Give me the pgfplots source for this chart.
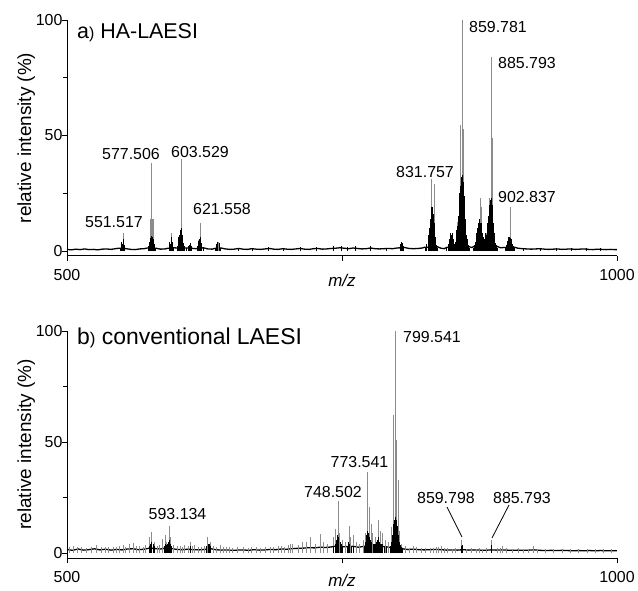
\documentclass[border=0pt]{standalone}
\usepackage{fontspec}
\setmainfont{Liberation Sans}
\usepackage{pgfplots}
\pgfplotsset{compat=1.18}

\pgfplotsset{
  spec/.style={
    width=550bp, scale only axis,
    xmin=500, xmax=1000, ymax=100,
    axis x line*=bottom, axis y line*=left,
    axis line style={line width=1pt},
    xtick={500,750,1000}, xticklabels={500,,1000},
    ytick={0,50,100}, minor ytick={25,75},
    tick align=outside, major tick length=5bp, minor tick length=4bp,
    tick style={line width=0.8pt, black},
    ticklabel style={font=\fontsize{16}{18}\selectfont},
    xticklabel style={yshift=-5bp},
    yticklabel style={xshift=4bp},
    /pgf/number format/assume math mode=true,
    xlabel={\textit{m/z}},
    xlabel style={font=\fontsize{17}{19}\selectfont, at={(axis description cs:0.5,0)}, anchor=base},
    ylabel={relative intensity (\%)},
    ylabel style={font=\fontsize{19}{21}\selectfont, yshift=-6bp},
    clip=false,
  },
  stick/.style={ycomb, no markers, black!45, line width=0.7pt},
  env/.style={ycomb, no markers, black, line width=0.5pt},
  base/.style={no markers, black, line width=1.3pt},
}
\tikzset{
  lab/.style={font=\fontsize{16}{18}\selectfont, anchor=base, inner sep=0pt},
  ttl/.style={anchor=base west, inner sep=0pt},
}

\begin{document}
\begin{tikzpicture}
\useasboundingbox (-67bp,-33bp) rectangle (571bp,558bp);

% ---------- a) HA-LAESI ----------
\begin{axis}[spec, at={(0,302bp)}, anchor=south west, height=236bp, ymin=-2.16,
  xlabel style={yshift=-31bp}]
\addplot[base] coordinates {
(500,0.7)(504,0.5)(508,0.8)(512,0.6)(516,0.9)(520,0.6)(524,0.7)(528,0.5)(532,0.8)(536,0.9)
(540,0.7)(544,1.0)(547,1.2)(554,1.0)(558,0.7)(562,0.6)(566,0.9)(570,1.0)(573,1.3)(581,1.2)
(585,0.8)(589,0.9)(592,1.2)(597,1.4)(600,1.3)(608,1.3)(613,1.2)(617,1.0)(624,1.4)(628,0.9)
(632,0.8)(635,1.2)(640,1.3)(644,0.9)(648,0.7)(652,0.8)(656,1.1)(660,0.8)(664,0.7)(668,1.0)
(672,0.8)(676,0.7)(680,0.9)(684,1.1)(688,0.8)(692,0.7)(696,1.0)(700,0.8)(704,0.7)(708,0.9)
(712,1.1)(716,0.8)(720,0.7)(724,1.0)(728,1.1)(732,0.8)(736,0.9)(740,1.1)(744,1.2)(748,1.4)
(752,1.2)(756,1.0)(760,1.3)(764,1.1)(768,0.9)(772,1.0)(776,1.3)(780,1.0)(784,0.9)(788,1.0)
(792,1.1)(796,1.0)(800,1.3)(807,1.5)(811,1.1)(815,1.0)(819,1.1)(823,1.3)(825,1.6)(837,1.8)
(840,1.2)(843,1.0)(845,1.5)(856,2.5)(866,1.8)(868,1.5)(870,2.0)(891,2.0)(894,1.4)(897,1.5)
(907,1.6)(910,1.2)(914,1.0)(918,0.9)(922,0.8)(926,0.9)(930,1.0)(934,0.8)(938,0.7)(942,0.8)
(946,0.9)(950,0.7)(954,0.8)(958,0.9)(962,0.7)(966,0.8)(970,0.9)(974,0.7)(978,0.6)(982,0.8)
(986,0.7)(990,0.6)(994,0.7)(998,0.6)(1000,0.6)
};
\addplot[stick] coordinates {
(549.2,4)(551.2,7.8)(575.5,14)(576.5,14.5)(577,38)(578,14)(578.5,14)(593,4)(595,8)
(601.8,7)(603.6,40)(604.2,18)(619.4,4.7)(621,12)(638,4)(829.4,10)(831.5,31)(833.6,29)
(848.8,8)(850.6,8)(855,12.5)(857.9,54.7)(859.4,100)(860.3,53)(875.5,23)(877,19)
(880.9,7.6)(883.6,23)(885.5,84)(887,49)(902.7,19)
};
\addplot[env] coordinates {
(548.5,1.5)(549,3)(549.5,4)(550,2.5)(550.5,3)(551,5)(551.5,4)(552,2.5)(552.5,1.5)
(574,2)(574.5,3)(575,4)(575.5,5)(576,5.5)(576.5,6)(577,6.5)(577.5,6)(578,5)(578.5,4)(579,3)(579.5,2)(580,1.5)
(593,4)(593.5,3)(594,2.5)(594.5,5)(595,6)(595.5,4)(596,2.5)(596.5,1.5)
(600.5,2)(601,3)(601.5,6)(602,5)(602.5,7)(603,9)(603.5,10)(604,9)(604.5,7)(605,5)(605.5,3.5)(606,2.5)(607,2)(608,1.5)
(610,2)(611,2.5)(612.5,3.4)(613,2)
(618.5,2)(619,3)(619.5,4.5)(620,3.5)(620.5,5)(621,6)(621.5,5)(622,3.5)(622.5,2.5)(623.5,1.5)
(635,1.5)(636,3)(637,4)(638,3.5)(638.5,2.5)(639.5,1.5)
(656,1.5)(668,1.5)(683,1.6)(697,1.5)(712,1.6)(727,1.8)(742,2)(749,2.2)(755,1.8)(762,2.2)(776,2)(790,1.5)
(803,3)(804,4)(805,3.5)(806,2)
(826,1.5)(827,3)(828,5)(828.5,7)(829,10)(829.5,8)(830,11)(830.5,14)(831,17)(831.5,19)(832,18)(832.5,19)(833,16)(833.5,12)(834,9)(834.5,6)(835,4)(836,2.5)(837,1.5)
(845,1.5)(846.5,3)(847.5,5)(848,6)(848.5,8)(849,7)(849.5,6)(850,7)(850.5,8)(851,5)(852,3)(852.5,2.5)(853,4)(853.5,7)(854,9)(854.5,11)(855,9)(855.5,12)
(856,15)(856.5,20)(857,25)(857.5,28)(858,30)(858.5,32)(859,33)(859.5,33)(860,30)(860.5,28)(861,24)(861.5,18)(862,14)(862.5,10)(863,7)(863.5,5)(864,3.5)(865,2.5)(866,1.5)
(869,1.5)(870,2.5)(871,4)(872,6)(872.5,8)(873,10)(873.5,11)(874,12)(874.5,13)(875,14)(875.5,12)(876,11)(876.5,12)(877,10)(877.5,8)(878,6)(878.5,5)(879,4)(879.5,5)(880,6)(880.5,7.6)(881,6)(881.5,7)
(882,10)(882.5,12)(883,15)(883.5,18)(884,20)(884.5,22)(885,22)(885.5,23)(886,22)(886.5,20)(887,16)(887.5,12)(888,8)(888.5,5)(889,3.5)(890,2.5)(891,1.5)
(898,1.5)(899,2.5)(900,3.5)(900.5,4.5)(901,5)(901.5,6)(902,6)(902.5,6)(903,5.5)(903.5,5)(904,4)(904.5,3)(905,2.5)(906,2)(907,1.5)
(915,1.2)(930,1.1)(945,1.2)(958,1.1)(972,1.2)(985,1.1)
};
\node[ttl, font=\fontsize{21.5}{24}\selectfont] at (axis cs:509.1,92.2) {a{\fontsize{16}{18}\selectfont)} HA-LAESI};
\node[lab] at (axis cs:542.7,10.0) {551.517};
\node[lab] at (axis cs:558.2,39.8) {577.506};
\node[lab] at (axis cs:620.9,40.3) {603.529};
\node[lab] at (axis cs:640.9,15.6) {621.558};
\node[lab] at (axis cs:825.5,32.0) {831.757};
\node[lab] at (axis cs:891.8,94.4) {859.781};
\node[lab] at (axis cs:918.2,79.2) {885.793};
\node[lab] at (axis cs:918.2,21.2) {902.837};
\end{axis}

% ---------- b) conventional LAESI ----------
\begin{axis}[spec, at={(0,0)}, anchor=south west, height=227bp, ymin=-2.25,
  xlabel style={yshift=-28bp}]
\addplot[base] coordinates {
(500,1.6)(505,1.2)(510,1.8)(515,1.3)(520,1.5)(525,1.9)(530,1.4)(535,1.7)(540,1.3)(545,1.6)
(550,1.4)(555,1.8)(560,1.9)(565,1.5)(570,1.7)(575,2.2)(580,2.0)(585,1.8)(590,2.3)(595,2.0)
(600,1.6)(605,1.5)(610,1.7)(615,1.5)(620,1.4)(625,1.6)(630,2.0)(635,1.5)(640,1.3)(645,1.4)
(650,1.2)(655,1.3)(660,1.4)(665,1.2)(670,1.5)(675,1.3)(680,1.4)(685,1.6)(690,1.5)(695,1.8)
(700,1.7)(705,2.0)(710,2.1)(715,2.2)(720,2.4)(725,2.3)(730,2.6)(735,2.5)(740,2.7)(745,3.2)
(750,2.8)(755,2.9)(760,3.0)(765,2.6)(770,3.0)(775,3.4)(780,3.2)(785,3.0)(790,2.8)(794,2.5)
(803,2.4)(806,1.8)(810,1.6)(815,1.7)(820,1.5)(825,1.4)(830,1.5)(835,1.6)(840,1.5)(845,1.3)
(850,1.4)(855,1.3)(860,1.5)(865,1.3)(870,1.4)(875,1.3)(880,1.2)(885,1.4)(890,1.3)(895,1.4)
(900,1.3)(905,1.2)(910,1.3)(915,1.2)(920,1.3)(925,1.4)(930,1.2)(935,1.1)(940,1.2)(945,1.1)
(950,1.2)(955,1.1)(960,1.0)(965,1.1)(970,1.0)(975,1.1)(980,1.0)(985,1.1)(990,1.0)(995,1.0)
(1000,1.0)
};
\addplot[stick] coordinates {
(502,2.8)(506,3.2)(509,2.5)(513,2.7)(518,2.4)(522,2.9)(527,3.4)(531,2.5)(535,2.5)(538,2.6)
(542,2.8)(545,2.5)(548,3.0)(551,3.6)(553,2.7)(557,4.0)(560,4.3)(563,3.0)(566,3.2)(569,2.8)
(571,3.4)(574.8,7)(577,9.3)(579,5)(582,3.0)(584,3.5)(586.4,6.5)(589,8)(590.5,5)(592.7,12.3)
(594,7)(597,3.5)(600,3.0)(602.7,3.2)(605,2.8)(607,3.4)(610,3.0)(612.4,5)(614,3.2)(616,3.6)
(619,2.6)(622,2.8)(625,3.0)(628,7)(630,5)(633,3.2)(636,2.8)(639,3.4)(642,2.6)(645,2.5)
(648,2.5)(650,2.4)(655,2.6)(660,2.5)(665,2.4)(668,2.7)(672,2.6)(676,2.4)(680,2.7)(685,2.8)
(688,2.5)(692,3.0)(695,3.2)(698,2.8)(701,3.5)(703,4.0)(705,4)(710,3.5)(714,5)(718,5)
(721,7)(726,4)(730.6,8.7)(733,5)(737,4)(742,7)(744,11)(746.7,23.6)(748,9)(750,6)
(753,5)(756.4,12)(758,7)(760,8)(763,5)(766,4)(769,6)(771,9)(773.3,36.7)(774.7,20.5)
(776.4,13)(778,9)(780,7)(782.7,15)(784.5,10)(787,9)(789,6)(792,5)(795,11.5)(797,62)
(798.5,100)(799.7,51)(801,33)(802,10)(804,4)(808,3)(811,2.2)(814.5,3)(818,2.6)(822,2.2)
(826,2.1)(830,2.4)(833,2.2)(836,2.6)(838,2.8)(840,3.0)(843,2.2)(846,2.2)(850,2.0)(853,2.1)
(858.8,6)(863,2.0)(868,2.2)(872,2.0)(875,2.2)(878,2.0)(881,2.1)(886,5.7)(891,2.2)(894,2.4)
(896,3.2)(899,2.2)(905,2.0)(910,2.1)(915,1.9)(919,2.0)(923.6,3.2)(928,1.9)(935,1.8)(942,1.7)
(950,1.8)(958,1.7)(965,1.8)(973,1.7)(980,1.7)(988,1.6)(995,1.7)
};
\addplot[env] coordinates {
(575,3)(576,4)(577,5)(578,4)(579,3)
(588,3)(589,4)(590,3.5)(591,4)(592,5)(593,6)(594,4)(595,3)
(612,3)(627,3)(628,4)(629,4)(630,3)
(742,3)(744,4)(745,6)(746,8)(747,7)(748,5)(749,4)(750,3)
(755,3)(756,5)(757,4)(758,3)(760,3)
(770,3)(771,5)(772,8)(773,10)(774,9)(775,7)(776,6)(777,5)(778,4)(779,4)(780,4)(781,5)(782,6)(783,7)(784,5)(785,4)(786,4)(787,4)(788,3)(790,3)
(794,3)(795,5)(796,8)(796.5,10)(797,13)(797.5,15)(798,16)(798.5,16)(799,15)(799.5,14)(800,12)(800.5,10)(801,8)(801.5,6)(802,5)(803,3.5)(804,2.5)(805,2)
(858.5,3)(859,3.5)(885.5,3)(886,3.5)
};
\node[ttl, font=\fontsize{23}{26}\selectfont] at (axis cs:509.1,93.7) {b{\fontsize{17}{19}\selectfont)} conventional LAESI};
\node[lab] at (axis cs:600.5,14.9) {593.134};
\node[lab] at (axis cs:741.8,25.2) {748.502};
\node[lab] at (axis cs:765.9,38.3) {773.541};
\node[lab] at (axis cs:831.8,95.0) {799.541};
\node[lab] at (axis cs:844.5,22.5) {859.798};
\node[lab] at (axis cs:913.6,22.5) {885.793};
\draw[black, line width=0.8pt] (axis cs:845.5,20.7) -- (axis cs:859.1,7.2);
\draw[black, line width=0.8pt] (axis cs:901.8,21.6) -- (axis cs:886.4,6.8);
\end{axis}
\end{tikzpicture}
\end{document}
